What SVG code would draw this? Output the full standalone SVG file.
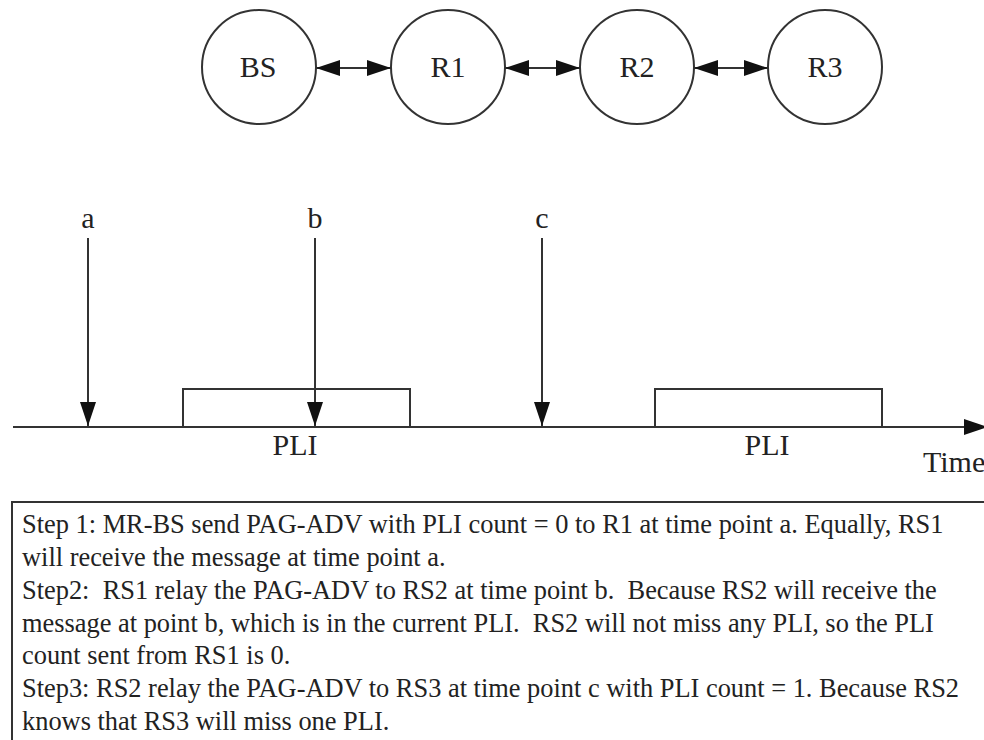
<svg xmlns="http://www.w3.org/2000/svg" width="984" height="740" viewBox="0 0 984 740">
<style>
.node{fill:#fff;stroke:#333;stroke-width:2}
.lbl{font-family:"Liberation Serif","Times New Roman",serif;font-size:30px;fill:#222;text-anchor:middle}
.ln{stroke:#333;stroke-width:2;fill:none}
.txt{font-family:"Liberation Serif","Times New Roman",serif;font-size:26.4px;fill:#222;white-space:pre}
</style>
<defs>
<marker id="ah" markerUnits="userSpaceOnUse" markerWidth="24" markerHeight="16" refX="24" refY="8" orient="auto-start-reverse">
<path d="M0,0 L24,8 L0,16 z" fill="#111"/>
</marker>
</defs>
<rect width="984" height="740" fill="#fff"/>
<g id="BS"><circle class="node" cx="259" cy="67" r="57"/><text class="lbl" x="258" y="77">BS</text></g>
<g id="R1"><circle class="node" cx="448" cy="67" r="57"/><text class="lbl" x="448" y="77">R1</text></g>
<g id="R2"><circle class="node" cx="637" cy="67" r="57"/><text class="lbl" x="637" y="77">R2</text></g>
<g id="R3"><circle class="node" cx="825" cy="67" r="57"/><text class="lbl" x="825" y="77">R3</text></g>
<g id="connectors">
<line class="ln" x1="316" y1="68" x2="391" y2="68" marker-start="url(#ah)" marker-end="url(#ah)"/>
<line class="ln" x1="505" y1="68" x2="580" y2="68" marker-start="url(#ah)" marker-end="url(#ah)"/>
<line class="ln" x1="694" y1="68" x2="768" y2="68" marker-start="url(#ah)" marker-end="url(#ah)"/>
<line class="ln" x1="88" y1="238" x2="88" y2="426" marker-end="url(#ah)"/>
<line class="ln" x1="315" y1="238" x2="315" y2="426" marker-end="url(#ah)"/>
<line class="ln" x1="542" y1="238" x2="542" y2="426" marker-end="url(#ah)"/>
<line class="ln" x1="13" y1="427" x2="988" y2="427" marker-end="url(#ah)"/>
</g>
<g id="timeline">
<text class="lbl" x="88" y="228">a</text>
<text class="lbl" x="315" y="228">b</text>
<text class="lbl" x="542" y="228">c</text>
<path class="ln" d="M183,427 V389 H410 V427"/>
<path class="ln" d="M655,427 V389 H882 V427"/>
<text class="lbl" x="295" y="455">PLI</text>
<text class="lbl" x="767" y="455">PLI</text>
<text class="lbl" x="923" y="472" style="text-anchor:start">Time</text>
</g>
<g id="steps">
<path class="ln" d="M12,742 V502 H986"/>
<text class="txt" x="22" y="533" xml:space="preserve">Step 1: MR-BS send PAG-ADV with PLI count = 0 to R1 at time point a. Equally, RS1</text>
<text class="txt" x="22" y="566" xml:space="preserve">will receive the message at time point a.</text>
<text class="txt" x="22" y="599" xml:space="preserve">Step2:  RS1 relay the PAG-ADV to RS2 at time point b.  Because RS2 will receive the</text>
<text class="txt" x="22" y="632" xml:space="preserve">message at point b, which is in the current PLI.  RS2 will not miss any PLI, so the PLI</text>
<text class="txt" x="22" y="664" xml:space="preserve">count sent from RS1 is 0.</text>
<text class="txt" x="22" y="697" xml:space="preserve">Step3: RS2 relay the PAG-ADV to RS3 at time point c with PLI count = 1. Because RS2</text>
<text class="txt" x="22" y="730" xml:space="preserve">knows that RS3 will miss one PLI.</text>
</g>
</svg>
